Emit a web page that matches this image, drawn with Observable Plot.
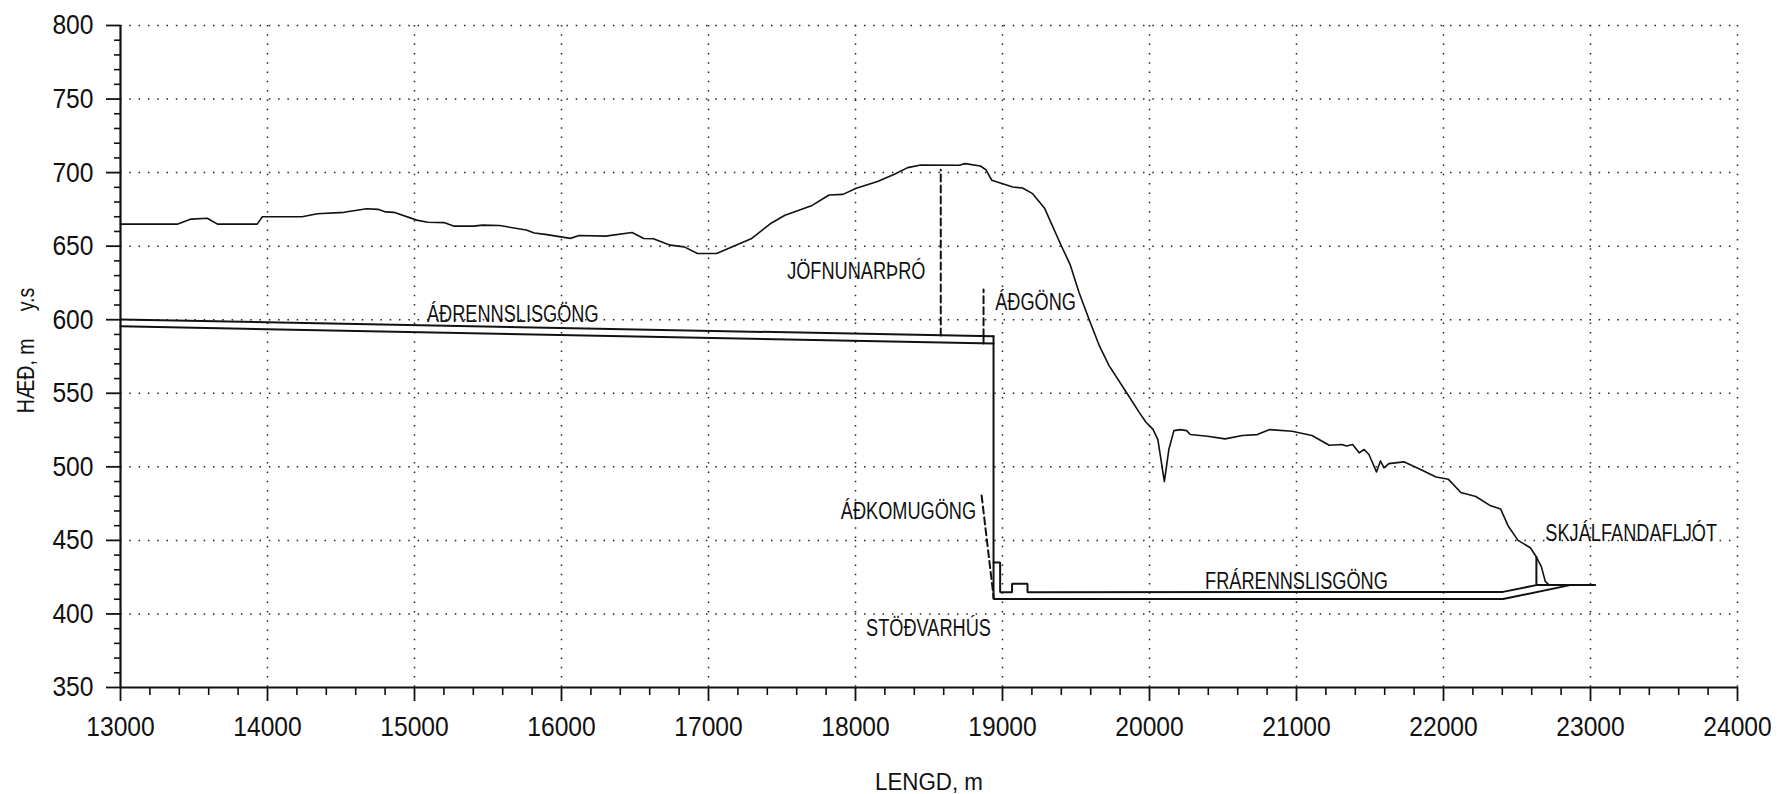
<!DOCTYPE html>
<html>
<head>
<meta charset="utf-8">
<script src="https://cdn.jsdelivr.net/npm/d3@7"></script>
<script src="https://cdn.jsdelivr.net/npm/@observablehq/plot@0.6"></script>
<style>
  html, body { margin: 0; padding: 0; background: #fff; }
  svg { display: block; }
</style>
</head>
<body>
<script>
// ---------- axes ----------
const xMajorTicks = [13000, 14000, 15000, 16000, 17000, 18000, 19000, 20000, 21000, 22000, 23000, 24000];
const yMajorTicks = [350, 400, 450, 500, 550, 600, 650, 700, 750, 800];
const xMinorStep = 200;
const yMinorStep = 10;
const xTitle = "LENGD, m";
const yTitle = "HÆÐ, m\u00a0\u00a0\u00a0\u00a0\u00a0y.s";

// ---------- terrain profile (length m, elevation m y.s) ----------
const terrainDist = [
  13000, 13390, 13480, 13590, 13660, 13930, 13965, 14235, 14340, 14520, 14675, 14755, 14805, 14860,
  15015, 15090, 15205, 15270, 15400, 15465, 15580, 15760, 15815, 15890, 16060, 16120, 16300, 16480,
  16560, 16625, 16740, 16835, 16925, 17055, 17290, 17420, 17520, 17705, 17820, 17915, 18005, 18150,
  18265, 18355, 18445, 18705, 18745, 18850, 18888, 18927, 18990, 19070, 19136, 19205, 19285, 19400,
  19460, 19520, 19590, 19660, 19725, 19840, 19930, 19975, 20024, 20057, 20101, 20132, 20166, 20210,
  20253, 20277, 20395, 20514, 20632, 20733, 20818, 20970, 21105, 21223, 21307, 21341, 21382, 21426,
  21460, 21493, 21544, 21571, 21595, 21628, 21730, 21848, 21949, 22034, 22118, 22220, 22321, 22389,
  22439, 22507, 22591, 22632, 22666, 22693, 22720
];
const terrainElev = [
  665, 665, 668.4, 669, 665, 665, 670, 670, 672, 673, 675.4, 675, 673.3, 673,
  667.7, 666.3, 666, 663.6, 663.6, 664.3, 664, 661, 659, 658, 655.3, 657.3, 656.8, 659.3,
  655.2, 655, 650.7, 649.5, 645, 645, 655, 665.2, 671, 677.7, 684.8, 685.2, 689.3, 693.9,
  698.9, 703.4, 705.2, 705, 706.1, 704.5, 701.8, 694.8, 692.7, 690.2, 689.5, 685.7, 676, 650.3,
  637.5, 618.7, 600, 582, 568.8, 551, 537, 530.5, 525.5, 518.5, 490, 512, 524.6, 525.3,
  524.6, 522, 520.8, 519, 521.3, 521.9, 525.3, 524.2, 521.3, 514.7, 515.2, 514.2, 515.2, 509.5,
  511.8, 508.4, 496.5, 504, 499.3, 502.2, 503.4, 498, 493.1, 491.5, 482.5, 479.8, 473.5, 471.3,
  460, 450, 445, 438.7, 432, 421.9, 419.6
];

// ---------- tunnels and structures (solid outlines) ----------
const headraceTopX = [13000, 18939];
const headraceTopY = [600.2, 588.7];
const headraceBottomX = [13000, 18939];
const headraceBottomY = [595.5, 583.8];
const junctionX = [18871, 18871];
const junctionY = [588.8, 583.9];
const penstockTailraceBottomX = [18939, 18939, 22405, 22861, 23030];
const penstockTailraceBottomY = [588.7, 410.2, 410.1, 419.6, 419.6];
const powerhouseTailraceTopX = [18939, 18984, 18984, 19065, 19065, 19170, 19170, 22405, 22632, 22632];
const powerhouseTailraceTopY = [435, 435, 414.7, 414.7, 420.5, 420.5, 414.8, 415, 419.6, 438.7];
const riverX = [22632, 23030];
const riverY = [419.6, 419.6];

// ---------- shafts (dashed) ----------
const surgeShaftX = [18580, 18580];
const surgeShaftY = [589.3, 702];
const accessShaftX = [18871, 18871];
const accessShaftY = [588.8, 620.5];
const accessTunnelX = [18858, 18940];
const accessTunnelY = [480.5, 411];

// ---------- labels ----------
const labelNames = ["ÁÐRENNSLISGÖNG", "JÖFNUNARÞRÓ", "ÁÐGÖNG", "ÁÐKOMUGÖNG", "STÖÐVARHÚS", "FRÁRENNSLISGÖNG", "SKJÁLFANDAFLJÓT"];
const labelX = [15085, 17535, 18950, 17900, 18072, 20378, 22693];
const labelY = [598.3, 627.8, 606.3, 464.6, 385.3, 417, 449.9];

// ---------- build tables ----------
const terrain = terrainDist.map((x, i) => ({x, y: terrainElev[i]}));
function poly(id, xs, ys) { return xs.map((x, i) => ({id, x, y: ys[i]})); }
const solid = [
  ...poly("headraceTop", headraceTopX, headraceTopY),
  ...poly("headraceBottom", headraceBottomX, headraceBottomY),
  ...poly("junction", junctionX, junctionY),
  ...poly("bottom", penstockTailraceBottomX, penstockTailraceBottomY),
  ...poly("top", powerhouseTailraceTopX, powerhouseTailraceTopY),
  ...poly("river", riverX, riverY)
];
const dashed = [
  ...poly("surge", surgeShaftX, surgeShaftY),
  ...poly("access", accessShaftX, accessShaftY),
  ...poly("adit", accessTunnelX, accessTunnelY)
];
const labels = labelNames.map((t, i) => ({t, x: labelX[i], y: labelY[i]}));

const xDomain = [xMajorTicks[0], xMajorTicks[xMajorTicks.length - 1]];
const yDomain = [yMajorTicks[0], yMajorTicks[yMajorTicks.length - 1]];
const xMinor = d3.range(xDomain[0], xDomain[1] + 1, xMinorStep).filter(v => !xMajorTicks.includes(v));
const yMinor = d3.range(yDomain[0], yDomain[1] + 1, yMinorStep).filter(v => !yMajorTicks.includes(v));

const gridStyle = {stroke: "#222", strokeOpacity: 1, strokeWidth: 1.5, strokeDasharray: "1.5,7.8"};

const chart = Plot.plot({
  width: 1778,
  height: 794,
  marginLeft: 120,
  marginRight: 41,
  marginTop: 25,
  marginBottom: 107,
  style: {fontFamily: "'Liberation Sans', Arial, sans-serif", color: "#111", background: "#fff"},
  x: {domain: xDomain},
  y: {domain: yDomain},
  marks: [
    Plot.gridX(xMajorTicks.slice(1), gridStyle),
    Plot.gridY(yMajorTicks.slice(1), gridStyle),
    Plot.axisX(xMajorTicks, {tickSize: 14, tickPadding: 15, tickFormat: d => String(d), fontSize: 28, label: null, strokeWidth: 1.8}),
    Plot.axisX(xMinor, {tickSize: 8, tickFormat: () => "", label: null, strokeWidth: 1.6}),
    Plot.axisY(yMajorTicks, {tickSize: 14, tickPadding: 13, tickFormat: d => String(d), fontSize: 28, label: null, strokeWidth: 1.8}),
    Plot.axisY(yMinor, {tickSize: 6, tickFormat: () => "", label: null, strokeWidth: 1.6}),
    Plot.ruleY([yDomain[0]], {x1: xDomain[0], x2: xDomain[1], stroke: "#111", strokeWidth: 2.2}),
    Plot.ruleX([xDomain[0]], {y1: yDomain[0], y2: yDomain[1], stroke: "#111", strokeWidth: 2.2}),
    Plot.line(terrain, {x: "x", y: "y", stroke: "#111", strokeWidth: 1.6, curve: "linear"}),
    Plot.line(solid, {x: "x", y: "y", z: "id", stroke: "#111", strokeWidth: 2, strokeLinejoin: "miter"}),
    Plot.line(dashed, {x: "x", y: "y", z: "id", stroke: "#111", strokeWidth: 2, strokeDasharray: "7,4"}),
    Plot.text(labels, {x: "x", y: "y", text: "t", textAnchor: "start", lineAnchor: "bottom", fontSize: 23, fill: "#111"}),
    Plot.text([xTitle], {text: d => d, frameAnchor: "bottom", textAnchor: "middle", lineAnchor: "middle", dy: 95.6, fontSize: 23, fill: "#111"}),
    Plot.text([yTitle], {text: d => d, frameAnchor: "left", textAnchor: "middle", lineAnchor: "middle", dx: -94, dy: -6, rotate: -90, fontSize: 23, fill: "#111"})
  ]
});
document.body.append(chart);

// condense glyphs to match the narrow plotter lettering of the original
chart.querySelectorAll("text").forEach(t => {
  const s = t.textContent;
  const L = t.getComputedTextLength();
  if (!(L > 0)) return;
  const f = /^\d+$/.test(s) ? 0.88 : s === xTitle ? 0.97 : s === yTitle ? 0.85 : 0.79;
  t.setAttribute("textLength", (L * f).toFixed(1));
  t.setAttribute("lengthAdjust", "spacingAndGlyphs");
});
</script>
</body>
</html>
